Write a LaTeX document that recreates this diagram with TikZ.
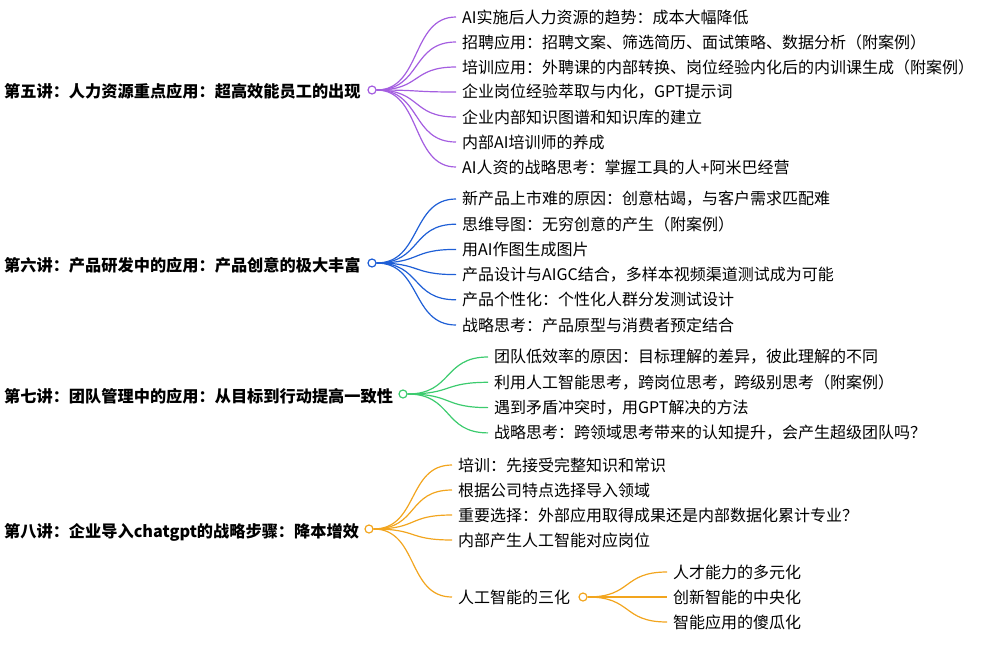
\documentclass[tikz,border=0pt]{standalone}
\usepackage{fontspec}
\setmainfont{Noto Sans CJK SC}
\definecolor{cP}{HTML}{A45EE0}
\definecolor{cB}{HTML}{1F5FD6}
\definecolor{cG}{HTML}{3CCB6E}
\definecolor{cO}{HTML}{F2A51E}
\begin{document}
\begin{tikzpicture}[x=1pt,y=-1pt,
 root/.style={anchor=west,inner sep=0pt,font=\fontsize{16.2}{18}\selectfont\bfseries},
 leaf/.style={anchor=west,inner sep=0pt,font=\fontsize{16}{18}\selectfont},
 hub/.style={circle,draw=#1,line width=1.2pt,fill=white,minimum size=8pt,inner sep=0pt},
 br/.style={draw=#1,line width=1.2pt}]
\useasboundingbox (0,0) rectangle (995,645);
% purple
\node[root] (r1) at (4,91) {第五讲：人力资源重点应用：超高效能员工的出现};
\node[hub=cP] (h1) at (372,90) {};
\foreach \t [count=\i] in {AI实施后人力资源的趋势：成本大幅降低,招聘应用：招聘文案、筛选简历、面试策略、数据分析（附案例）,培训应用：外聘课的内部转换、岗位经验内化后的内训课生成（附案例）,企业岗位经验萃取与内化，GPT提示词,企业内部知识图谱和知识库的建立,内部AI培训师的养成,AI人资的战略思考：掌握工具的人+阿米巴经营}
 {\node[leaf] (p\i) at (462,{17+25*(\i-1)}) {\t};
  \draw[br=cP] (h1.east) .. controls +(45,0) and +(-45,0) .. ([xshift=-6pt]p\i.west);}
% blue
\node[root] (r2) at (4,265) {第六讲：产品研发中的应用：产品创意的极大丰富};
\node[hub=cB] (h2) at (372,263) {};
\foreach \t [count=\i] in {新产品上市难的原因：创意枯竭，与客户需求匹配难,思维导图：无穷创意的产生（附案例）,用AI作图生成图片,产品设计与AIGC结合，多样本视频渠道测试成为可能,产品个性化：个性化人群分发测试设计,战略思考：产品原型与消费者预定结合}
 {\node[leaf] (b\i) at (462,{199+25.2*(\i-1)}) {\t};
  \draw[br=cB] (h2.east) .. controls +(45,0) and +(-45,0) .. ([xshift=-6pt]b\i.west);}
% green
\node[root] (r3) at (4,396) {第七讲：团队管理中的应用：从目标到行动提高一致性};
\node[hub=cG] (h3) at (403,394) {};
\foreach \t [count=\i] in {团队低效率的原因：目标理解的差异，彼此理解的不同,利用人工智能思考，跨岗位思考，跨级别思考（附案例）,遇到矛盾冲突时，用GPT解决的方法,战略思考：跨领域思考带来的认知提升，会产生超级团队吗？}
 {\node[leaf] (g\i) at (494,{357+25.3*(\i-1)}) {\t};
  \draw[br=cG] (h3.east) .. controls +(45,0) and +(-45,0) .. ([xshift=-6pt]g\i.west);}
% orange
\node[root] (r4) at (4,532) {第八讲：企业导入chatgpt的战略步骤：降本增效};
\node[hub=cO] (h4) at (369,529) {};
\foreach \t/\y [count=\i] in {培训：先接受完整知识和常识/465,根据公司特点选择导入领域/490,重要选择：外部应用取得成果还是内部数据化累计专业？/515,内部产生人工智能对应岗位/540,人工智能的三化/597}
 {\node[leaf] (o\i) at (458,\y) {\t};
  \draw[br=cO] (h4.east) .. controls +(45,0) and +(-45,0) .. ([xshift=-6pt]o\i.west);}
\node[hub=cO] (h5) at (583,597) {};
\foreach \t [count=\i] in {人才能力的多元化,创新智能的中央化,智能应用的傻瓜化}
 {\node[leaf] (s\i) at (673,{572+25*(\i-1)}) {\t};
  \draw[br=cO] (h5.east) .. controls +(45,0) and +(-45,0) .. ([xshift=-6pt]s\i.west);}
\end{tikzpicture}
\end{document}
